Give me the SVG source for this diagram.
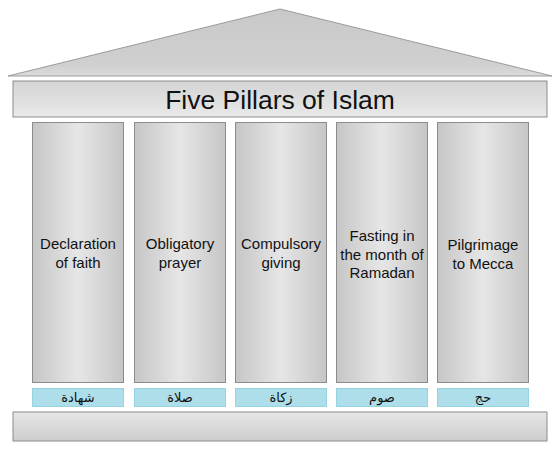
<svg xmlns="http://www.w3.org/2000/svg" width="560" height="458" viewBox="0 0 560 458">
<defs>
<linearGradient id="colG" x1="0" y1="0" x2="1" y2="0">
<stop offset="0" stop-color="#c6c6c6"/>
<stop offset="0.5" stop-color="#e6e6e6"/>
<stop offset="1" stop-color="#c6c6c6"/>
</linearGradient>
<linearGradient id="archG" x1="0" y1="0" x2="0" y2="1">
<stop offset="0" stop-color="#d4d4d4"/>
<stop offset="1" stop-color="#e9e9e9"/>
</linearGradient>
<linearGradient id="baseG" x1="0" y1="0" x2="0" y2="1">
<stop offset="0" stop-color="#e6e6e6"/>
<stop offset="1" stop-color="#cdcdcd"/>
</linearGradient>
<linearGradient id="roofG" x1="0" y1="0" x2="0" y2="1">
<stop offset="0" stop-color="#c8c8c8"/>
<stop offset="0.85" stop-color="#d0d0d0"/>
<stop offset="1" stop-color="#dcdcdc"/>
</linearGradient>
</defs>
<style>
.col{fill:url(#colG);stroke:#8c8c8c;stroke-width:1}
.lbl{fill:#addeea;stroke:#96d3e3;stroke-width:1}
.t{font-family:"Liberation Sans",Arial,sans-serif;font-size:15px;fill:#111;text-anchor:middle}
.ar{font-family:"DejaVu Sans","Noto Sans",sans-serif;font-size:13px;fill:#111;text-anchor:middle}
</style>
<g id="roof">
<polygon points="8,76 280,9 552,76" fill="url(#roofG)" stroke="#9a9a9a" stroke-width="1"/>
</g>
<g id="architrave">
<rect x="13" y="81" width="534" height="36" fill="url(#archG)" stroke="#8c8c8c" stroke-width="1"/>
<text x="280" y="109" font-family="'Liberation Sans',Arial,sans-serif" font-size="26.5" fill="#111" text-anchor="middle">Five Pillars of Islam</text>
</g>
<g id="pillar1">
<rect class="col" x="32.5" y="122.5" width="91" height="260"/>
<text class="t" x="78" y="249">Declaration</text>
<text class="t" x="78" y="268">of faith</text>
<rect class="lbl" x="32.5" y="388.5" width="91" height="18"/>
<text class="ar" x="78" y="402">شهادة</text>
</g>
<g id="pillar2">
<rect class="col" x="134.5" y="122.5" width="91" height="260"/>
<text class="t" x="180" y="249">Obligatory</text>
<text class="t" x="180" y="268">prayer</text>
<rect class="lbl" x="134.5" y="388.5" width="91" height="18"/>
<text class="ar" x="180" y="402">صلاة</text>
</g>
<g id="pillar3">
<rect class="col" x="235.5" y="122.5" width="91" height="260"/>
<text class="t" x="281" y="249">Compulsory</text>
<text class="t" x="281" y="268">giving</text>
<rect class="lbl" x="235.5" y="388.5" width="91" height="18"/>
<text class="ar" x="281" y="402">زكاة</text>
</g>
<g id="pillar4">
<rect class="col" x="336.5" y="122.5" width="91" height="260"/>
<text class="t" x="382" y="241">Fasting in</text>
<text class="t" x="382" y="259.5">the month of</text>
<text class="t" x="382" y="278">Ramadan</text>
<rect class="lbl" x="336.5" y="388.5" width="91" height="18"/>
<text class="ar" x="382" y="402">صوم</text>
</g>
<g id="pillar5">
<rect class="col" x="437.5" y="122.5" width="91" height="260"/>
<text class="t" x="483" y="250">Pilgrimage</text>
<text class="t" x="483" y="268.5">to Mecca</text>
<rect class="lbl" x="437.5" y="388.5" width="91" height="18"/>
<text class="ar" x="483" y="402">حج</text>
</g>
<g id="base">
<rect x="13" y="412" width="534" height="29" fill="url(#baseG)" stroke="#8c8c8c" stroke-width="1"/>
</g>
<g id="connectors"></g>
</svg>
